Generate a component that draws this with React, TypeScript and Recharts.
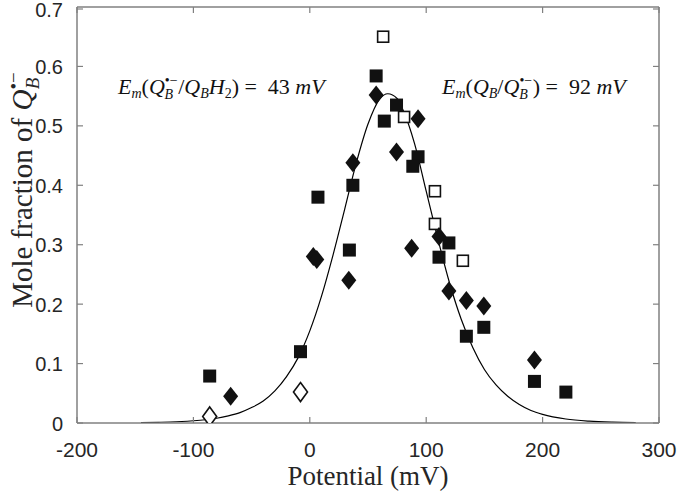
import { ComposedChart, Line, Scatter, XAxis, YAxis, ReferenceLine } from "recharts";

const W = 677;
const H = 492;
const PLOT_W = 582;
const PLOT_H = 416;
const AXIS_COLOR = "#808080";
const TEXT_COLOR = "#262626";

const X_TICKS = [-200, -100, 0, 100, 200, 300];
const Y_TICKS = [0, 0.1, 0.2, 0.3, 0.4, 0.5, 0.6, 0.7];

// fitted curve
const curveX = [-145, -130, -120, -110, -100, -90, -80, -70, -60, -50, -40, -30, -20, -10, 0, 10, 20, 30, 40, 50, 60, 67, 75, 80, 90, 100, 110, 120, 130, 140, 150, 160, 170, 180, 190, 200, 220, 240, 260, 280];
const curveY = [0.0006, 0.0012, 0.0017, 0.0025, 0.0038, 0.0055, 0.008, 0.012, 0.0175, 0.026, 0.037, 0.054, 0.078, 0.11, 0.155, 0.213, 0.283, 0.36, 0.438, 0.503, 0.545, 0.554, 0.546, 0.527, 0.47, 0.39, 0.31, 0.236, 0.175, 0.127, 0.09, 0.064, 0.045, 0.031, 0.021, 0.0145, 0.0067, 0.0031, 0.0014, 0.0006];

const filledSquareX = [-86, -8, 7, 37, 34, 57, 64, 74.5, 93, 88.5, 119.5, 111, 134.5, 149.5, 193, 220];
const filledSquareY = [0.079, 0.12, 0.38, 0.4, 0.291, 0.584, 0.508, 0.535, 0.448, 0.432, 0.303, 0.279, 0.146, 0.161, 0.07, 0.052];

const filledDiamondX = [-68, 3, 6, 33.5, 37, 57, 74.5, 93, 87.5, 111, 119.5, 134.5, 149.5, 193];
const filledDiamondY = [0.045, 0.28, 0.275, 0.24, 0.438, 0.552, 0.456, 0.512, 0.294, 0.314, 0.222, 0.206, 0.197, 0.106];

const openSquareX = [63, 81, 107.5, 107.5, 131.5];
const openSquareY = [0.65, 0.515, 0.39, 0.335, 0.273];

const openDiamondX = [-86, -8];
const openDiamondY = [0.011, 0.052];

const zip = (xs: number[], ys: number[]) => xs.map((x, i) => ({ x, y: ys[i] }));

const curve = zip(curveX, curveY);
const filledSquares = zip(filledSquareX, filledSquareY);
const filledDiamonds = zip(filledDiamondX, filledDiamondY);
const openSquares = zip(openSquareX, openSquareY);
const openDiamonds = zip(openDiamondX, openDiamondY);

const FilledSquare = (p: any) => <rect x={p.cx - 6.5} y={p.cy - 6.5} width={13} height={13} fill="#111" />;
const OpenSquare = (p: any) => (
	<rect x={p.cx - 5.5} y={p.cy - 5.5} width={11} height={11} fill="#fff" stroke="#111" strokeWidth={1.6} />
);
const diamond = (cx: number, cy: number, w: number, h: number) =>
	`M${cx},${cy - h} L${cx + w},${cy} L${cx},${cy + h} L${cx - w},${cy} Z`;
const FilledDiamond = (p: any) => <path d={diamond(p.cx, p.cy, 7.5, 9.5)} fill="#111" />;
const OpenDiamond = (p: any) => <path d={diamond(p.cx, p.cy, 7, 9.5)} fill="#fff" stroke="#111" strokeWidth={1.6} />;

const XTick = (p: any) => {
	const { x, y, payload } = p;
	return (
		<g>
			<line x1={x} x2={x} y1={y} y2={y - 6} stroke={AXIS_COLOR} strokeWidth={1.2} />
			<line x1={x} x2={x} y1={y - PLOT_H} y2={y - PLOT_H + 6} stroke={AXIS_COLOR} strokeWidth={1.2} />
			<text x={x} y={y + 34} textAnchor="middle" fontFamily="Liberation Sans" fontSize={21} fill={TEXT_COLOR}>
				{payload.value}
			</text>
		</g>
	);
};

const YTick = (p: any) => {
	const { x, y, payload } = p;
	return (
		<g>
			<line x1={x} x2={x + 6} y1={y} y2={y} stroke={AXIS_COLOR} strokeWidth={1.2} />
			<line x1={x + PLOT_W} x2={x + PLOT_W - 6} y1={y} y2={y} stroke={AXIS_COLOR} strokeWidth={1.2} />
			<text x={x - 14} y={y + 7.5} textAnchor="end" fontFamily="Liberation Sans" fontSize={20} fill={TEXT_COLOR}>
				{payload.value}
			</text>
		</g>
	);
};

const it = { fontStyle: "italic" as const };
const S = 14;

function Overlay() {
	return (
		<svg width={W} height={H} style={{ position: "absolute", left: 0, top: 0, pointerEvents: "none" }}>
			<g fontFamily="Liberation Serif" fill="#111">
				<text x={118} y={94} fontSize={22}>
					<tspan {...it}>E</tspan>
					<tspan {...it} fontSize={S} dy={4}>m</tspan>
					<tspan dy={-4}>(</tspan>
					<tspan {...it}>Q</tspan>
					<tspan fontSize={S} dy={-9}>•−</tspan>
					<tspan {...it} fontSize={S} dx={-13} dy={14}>B</tspan>
					<tspan dx={5} dy={-5}>/</tspan>
					<tspan {...it}>Q</tspan>
					<tspan {...it} fontSize={S} dy={4}>B</tspan>
					<tspan {...it} dy={-4}>H</tspan>
					<tspan fontSize={S} dy={4}>2</tspan>
					<tspan dy={-4}>{")\u00a0=\u00a0\u00a043\u00a0"}</tspan>
					<tspan {...it}>mV</tspan>
				</text>
				<text x={442} y={94} fontSize={22}>
					<tspan {...it}>E</tspan>
					<tspan {...it} fontSize={S} dy={4}>m</tspan>
					<tspan dy={-4}>(</tspan>
					<tspan {...it}>Q</tspan>
					<tspan {...it} fontSize={S} dy={4}>B</tspan>
					<tspan dy={-4}>/</tspan>
					<tspan {...it}>Q</tspan>
					<tspan fontSize={S} dy={-9}>•−</tspan>
					<tspan {...it} fontSize={S} dx={-13} dy={14}>B</tspan>
					<tspan dx={5} dy={-5}>{")\u00a0=\u00a0\u00a092\u00a0"}</tspan>
					<tspan {...it}>mV</tspan>
				</text>
				<text x={368} y={485} textAnchor="middle" fontSize={27} fill={TEXT_COLOR}>
					Potential (mV)
				</text>
				<text transform="rotate(-90)" x={-190} y={32} textAnchor="middle" fontSize={29} fill={TEXT_COLOR}>
					{"Mole fraction of\u00a0"}
					<tspan {...it}>Q</tspan>
					<tspan fontSize={19} dy={-12}>•−</tspan>
					<tspan {...it} fontSize={19} dx={-17} dy={19}>B</tspan>
				</text>
			</g>
		</svg>
	);
}

export default function App() {
	return (
		<div style={{ position: "relative", width: W, height: H, background: "#fff" }}>
			<style>{"body{margin:0}"}</style>
			<ComposedChart width={W} height={H} margin={{ top: 7, right: 18, bottom: 0, left: 0 }}>
				<XAxis
					type="number"
					dataKey="x"
					domain={[-200, 300]}
					ticks={X_TICKS}
					allowDataOverflow
					height={69}
					tickSize={0}
					tickMargin={0}
					tickLine={false}
					tick={XTick}
					stroke={AXIS_COLOR}
					strokeWidth={1.5}
				/>
				<YAxis
					type="number"
					dataKey="y"
					domain={[0, 0.7]}
					ticks={Y_TICKS}
					allowDataOverflow
					width={77}
					tickSize={0}
					tickMargin={0}
					tickLine={false}
					tick={YTick}
					stroke={AXIS_COLOR}
					strokeWidth={1.5}
				/>
				<ReferenceLine y={0.7} stroke={AXIS_COLOR} strokeWidth={1.5} />
				<ReferenceLine x={300} stroke={AXIS_COLOR} strokeWidth={1.5} />
				<Line data={curve} dataKey="y" type="monotone" stroke="#000" strokeWidth={1.2} dot={false} isAnimationActive={false} />
				<Scatter data={openSquares} dataKey="y" shape={OpenSquare} isAnimationActive={false} />
				<Scatter data={openDiamonds} dataKey="y" shape={OpenDiamond} isAnimationActive={false} />
				<Scatter data={filledSquares} dataKey="y" shape={FilledSquare} isAnimationActive={false} />
				<Scatter data={filledDiamonds} dataKey="y" shape={FilledDiamond} isAnimationActive={false} />
			</ComposedChart>
			<Overlay />
		</div>
	);
}
